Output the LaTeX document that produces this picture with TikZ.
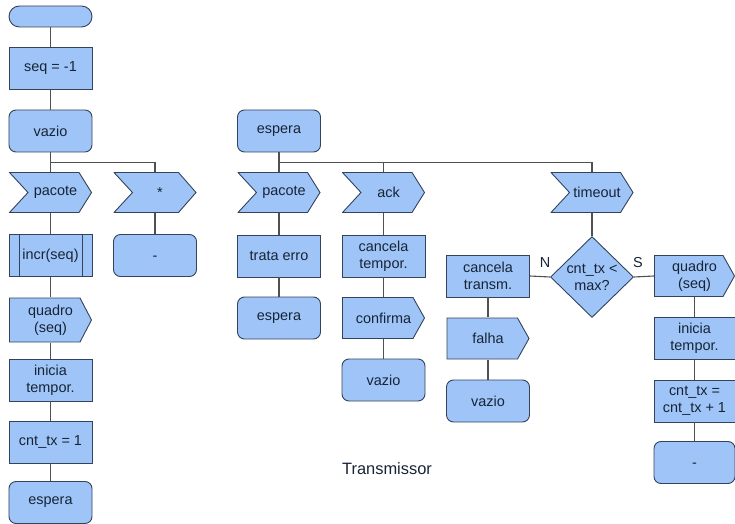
\documentclass[tikz,border=0pt]{standalone}
\usepackage{fontspec}
\setmainfont{Liberation Sans}
\usetikzlibrary{shapes.geometric}

\definecolor{boxfill}{HTML}{9FC5F8}
\definecolor{edgecol}{HTML}{34435A}
\definecolor{linecol}{HTML}{505050}
\definecolor{txtcol}{HTML}{172436}

\newcommand\bxfont{\fontsize{14.5}{17}\selectfont}
% a centred dash, set without height or depth
\newcommand\middash{\raisebox{-5bp}[0pt][0pt]{-}}

\tikzset{
  txt/.style={text=txtcol, font=\bxfont, align=center, inner sep=0pt},
  base/.style={txt, draw=edgecol, fill=boxfill, line width=0.9bp,
    minimum width=83bp, minimum height=42bp},
  proc/.style={base, rectangle},
  rbox/.style={base, rectangle, rounded corners=7bp},
  term/.style={base, rectangle, rounded corners=10.5bp, minimum height=21bp},
  % process box with a double bar on each side
  predef/.style={proc, path picture={
      \draw[edgecol, line width=0.9bp]
        ([xshift=10bp]path picture bounding box.north west) --
        ([xshift=10bp]path picture bounding box.south west)
        ([xshift=-10bp]path picture bounding box.north east) --
        ([xshift=-10bp]path picture bounding box.south east);}},
  % signal received: notch on the left, point on the right
  chev/.style={txt, rectangle, minimum width=83bp, minimum height=41bp,
    execute at begin node={\hspace*{10bp}},
    path picture={
      \filldraw[draw=edgecol, fill=boxfill, line width=0.9bp]
        ([xshift=0.5bp,yshift=-0.5bp]path picture bounding box.north west) --
        ([xshift=-#1,yshift=-0.5bp]path picture bounding box.north east) --
        ([xshift=-0.5bp]path picture bounding box.east) --
        ([xshift=-#1,yshift=0.5bp]path picture bounding box.south east) --
        ([xshift=0.5bp,yshift=0.5bp]path picture bounding box.south west) --
        ([xshift=19bp]path picture bounding box.west) -- cycle;}},
  chev/.default=13bp,
  % signal sent: point on the right only
  outp/.style={txt, rectangle, minimum width=83bp, minimum height=42bp,
    path picture={
      \filldraw[draw=edgecol, fill=boxfill, line width=0.9bp]
        ([xshift=0.5bp,yshift=-0.5bp]path picture bounding box.north west) --
        ([xshift=-12bp,yshift=-0.5bp]path picture bounding box.north east) --
        ([xshift=-0.5bp]path picture bounding box.east) --
        ([xshift=-12bp,yshift=0.5bp]path picture bounding box.south east) --
        ([xshift=0.5bp,yshift=0.5bp]path picture bounding box.south west) -- cycle;}},
  decision/.style={diamond, draw=edgecol, fill=boxfill, line width=0.9bp,
    minimum width=83bp, minimum height=81bp, inner sep=0pt},
  link/.style={draw=linecol, line width=1.1bp},
}

\begin{document}
\begin{tikzpicture}[x=1bp, y=-1bp]
  \useasboundingbox (0,0) rectangle (735,524);

  % --- initial state ---
  \node[term]   (start)  at (50.5,16.5) {};
  \node[proc]   (seq)    at (50.5,68.5) {seq = -1};
  \node[rbox]   (vaz1)   at (50.5,131)  {vazio};
  \node[chev]   (pac1)   at (50.5,192.5) {pacote};
  \node[predef] (incr)   at (50.5,255.5) {incr(seq)};
  \node[outp, minimum height=45bp] (quad1) at (50.5,320) {quadro\\(seq)};
  \node[proc]   (ini1)   at (50.5,380)  {inicia\\tempor.};
  \node[proc]   (cnt1)   at (50.5,442)  {cnt\_tx = 1};
  \node[rbox]   (esp1)   at (50.5,502.5) {espera};

  \node[chev=18bp] (star) at (155,192.5) {*};
  \node[rbox]   (dash1)  at (155,255.5) {\middash};

  % --- waiting state ---
  \node[rbox]   (esp2)   at (279,131)   {espera};
  \node[chev]   (pac2)   at (279,192.5) {pacote};
  \node[proc]   (trata)  at (279,256)   {trata erro};
  \node[rbox]   (esp3)   at (279,318)   {espera};

  \node[chev]   (ack)    at (383.5,192.5) {ack};
  \node[proc]   (cantp)  at (383.5,256)   {cancela\\tempor.};
  \node[outp]   (conf)   at (383.5,318)   {confirma};
  \node[rbox]   (vaz2)   at (383.5,380)   {vazio};

  \node[chev]   (tout)   at (592,192.5) {timeout};
  \node[decision] (dec)  at (592,277) {};
  \node[txt]    (dectxt) at (dec) {cnt\_tx <\\max?};

  \node[proc]   (cantr)  at (488,276)   {cancela\\transm.};
  \node[outp]   (falha)  at (488,338.5) {falha};
  \node[rbox]   (vaz3)   at (488,401)   {vazio};

  \node[outp, minimum width=81bp] (quad2) at (694.5,276)   {quadro\\(seq)};
  \node[proc, minimum width=81bp] (ini2)  at (694.5,338.5) {inicia\\tempor.};
  \node[proc, minimum width=81bp] (cnt2)  at (694.5,401)   {cnt\_tx =\\cnt\_tx + 1};
  \node[rbox, minimum width=81bp] (dash2) at (694.5,462.5) {\middash};

  \node[txt] (lblN) at (545,263) {N};
  \node[txt] (lblS) at (638,263) {S};
  \node[txt, font=\fontsize{16.5}{19}\selectfont] (title) at (387,469) {Transmissor};

  % --- connectors ---
  \draw[link] (start) -- (seq);
  \draw[link] (seq) -- (vaz1);
  \draw[link] (vaz1) -- (pac1);
  \draw[link] (vaz1.south) -- ++(0,10) -| (star.north);
  \draw[link] (pac1) -- (incr);
  \draw[link] (incr) -- (quad1);
  \draw[link] (quad1) -- (ini1);
  \draw[link] (ini1) -- (cnt1);
  \draw[link] (cnt1) -- (esp1);
  \draw[link] (star) -- (dash1);

  \draw[link] (esp2) -- (pac2);
  \draw[link] (esp2.south) -- ++(0,10) -| (tout.north);
  \draw[link] (ack.north) -- ++(0,-10);
  \draw[link] (pac2) -- (trata);
  \draw[link] (trata) -- (esp3);
  \draw[link] (ack) -- (cantp);
  \draw[link] (cantp) -- (conf);
  \draw[link] (conf) -- (vaz2);

  \draw[link] (tout) -- (dec);
  \draw[link] (cantr.east) -- (dec.west);
  \draw[link] (dec.east) -- (quad2.west);
  \draw[link] (cantr) -- (falha);
  \draw[link] (falha) -- (vaz3);
  \draw[link] (quad2) -- (ini2);
  \draw[link] (ini2) -- (cnt2);
  \draw[link] (cnt2) -- (dash2);
\end{tikzpicture}
\end{document}
